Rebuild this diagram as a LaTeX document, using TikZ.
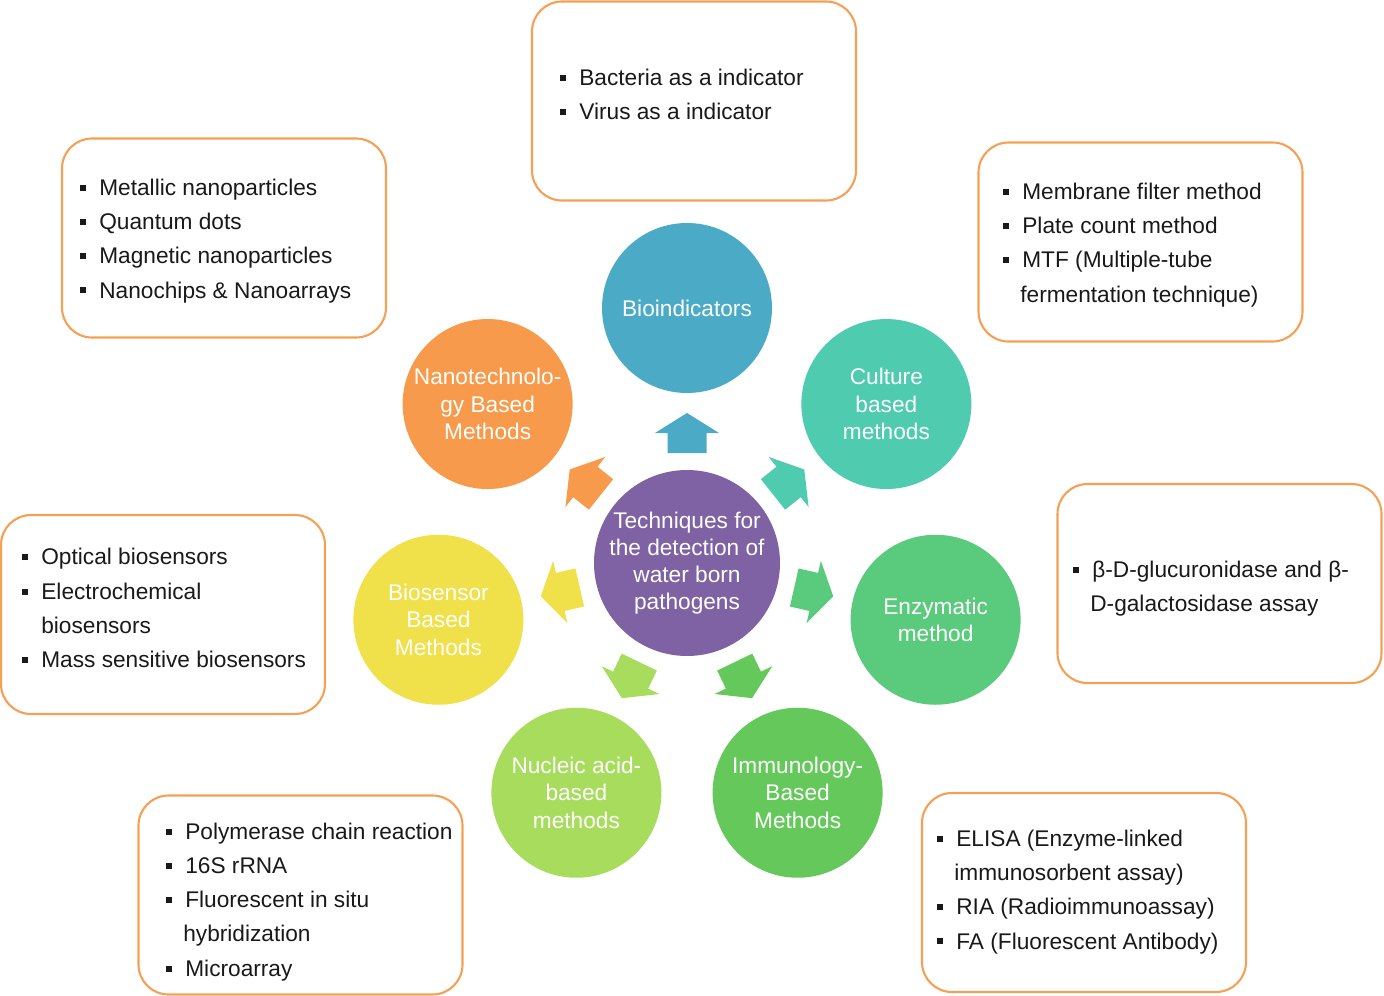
\documentclass[tikz,border=0pt]{standalone}
\usepackage{fontspec}
\setmainfont{Liberation Sans}
\usepackage{xcolor}
\usetikzlibrary{positioning, calc}

\definecolor{hubpurple}{HTML}{7F62A3}
\definecolor{bioblue}{HTML}{4BAAC6}
\definecolor{culturegreen}{HTML}{4FCBB0}
\definecolor{enzymegreen}{HTML}{5ACA7D}
\definecolor{immunogreen}{HTML}{64C95A}
\definecolor{nucleiclime}{HTML}{A7DC5D}
\definecolor{sensoryellow}{HTML}{F0E04A}
\definecolor{nanoorange}{HTML}{F79A4B}
\definecolor{boxorange}{HTML}{F5A054}

\newcommand{\bulitem}[1]{\makebox[0.38cm][l]{\raisebox{0.2em}{\rule{0.12cm}{0.12cm}}}#1}
\newcommand{\contline}[1]{\hspace*{0.34cm}#1}

\begin{document}
\begin{tikzpicture}[
    hubcircle/.style={circle, minimum size=3.72cm, inner sep=0pt, text=white, align=center,
        font=\fontsize{12.9pt}{15.5pt}\selectfont},
    satcircle/.style={circle, minimum size=3.4cm, inner sep=0pt, text=white, align=center,
        font=\fontsize{12.9pt}{15.5pt}\selectfont},
    listbox/.style={draw=boxorange, line width=1.2pt, rounded corners=0.6cm,
        minimum width=6.48cm, minimum height=3.98cm},
    listtext/.style={anchor=west, inner sep=0pt, align=left, text=black!90,
        font=\fontsize{12.9pt}{19.4pt}\selectfont},
    blockarrow/.pic={\path[pic actions] (-0.4,-0.39) -- (0,-0.39) -- (0,-0.64) -- (0.4,0)
        -- (0,0.64) -- (0,0.39) -- (-0.4,0.39) -- cycle;}
]
    \useasboundingbox (0,0) rectangle (27.68,-19.92);

    % Centre circle
    \node[hubcircle, fill=hubpurple] (hub) at (13.74,-11.26)
        {Techniques for\\the detection of\\water born\\pathogens};

    % --- SATELLITE CIRCLES (heptagon, radius 5.1) ---
    \node[satcircle, fill=bioblue] (bio) at ($(hub)+(90:5.1)$) {Bioindicators};
    \node[satcircle, fill=culturegreen] (culture) at ($(hub)+(38.57:5.1)$) {Culture\\based\\methods};
    \node[satcircle, fill=enzymegreen] (enzyme) at ($(hub)+(-12.86:5.1)$) {Enzymatic\\method};
    \node[satcircle, fill=immunogreen] (immuno) at ($(hub)+(-64.29:5.1)$) {Immunology-\\Based\\Methods};
    \node[satcircle, fill=nucleiclime] (nucleic) at ($(hub)+(-115.71:5.1)$) {Nucleic acid-\\based\\methods};
    \node[satcircle, fill=sensoryellow] (sensor) at ($(hub)+(-167.14:5.1)$) {Biosensor\\Based\\Methods};
    \node[satcircle, fill=nanoorange] (nano) at ($(hub)+(141.43:5.1)$) {Nanotechnolo-\\gy Based\\Methods};

    % --- BLOCK ARROWS out of the centre ---
    \pic[fill=bioblue, rotate=90] at ($(hub)+(90:2.6)$) {blockarrow};
    \pic[fill=culturegreen, rotate=38.57] at ($(hub)+(38.57:2.6)$) {blockarrow};
    \pic[fill=enzymegreen, rotate=-12.86] at ($(hub)+(-12.86:2.6)$) {blockarrow};
    \pic[fill=immunogreen, rotate=-64.29] at ($(hub)+(-64.29:2.6)$) {blockarrow};
    \pic[fill=nucleiclime, rotate=-115.71] at ($(hub)+(-115.71:2.6)$) {blockarrow};
    \pic[fill=sensoryellow, rotate=-167.14] at ($(hub)+(-167.14:2.6)$) {blockarrow};
    \pic[fill=nanoorange, rotate=141.43] at ($(hub)+(141.43:2.6)$) {blockarrow};

    % --- LIST BOXES ---
    \node[listbox] (biobox) at (13.88,-2.02) {};
    \node[listtext] (biolist) at (11.2,-1.88)
        {\bulitem{Bacteria as a indicator}\\\bulitem{Virus as a indicator}};

    \node[listbox] (nanobox) at (4.48,-4.76) {};
    \node[listtext] (nanolist) at (1.6,-4.82)
        {\bulitem{Metallic nanoparticles}\\\bulitem{Quantum dots}\\
         \bulitem{Magnetic nanoparticles}\\\bulitem{Nanochips \& Nanoarrays}};

    \node[listbox] (culturebox) at (22.81,-4.84) {};
    \node[listtext] (culturelist) at (20.06,-4.9)
        {\bulitem{Membrane filter method}\\\bulitem{Plate count method}\\
         \bulitem{MTF (Multiple-tube}\\\contline{fermentation technique)}};

    \node[listbox] (sensorbox) at (3.26,-12.29) {};
    \node[listtext] (sensorlist) at (0.44,-12.16)
        {\bulitem{Optical biosensors}\\\bulitem{Electrochemical}\\
         \contline{\hspace{0.04cm}biosensors}\\\bulitem{Mass sensitive biosensors}};

    \node[listbox] (enzymebox) at (24.39,-11.67) {};
    \node[listtext] (enzymelist) at (21.46,-11.78)
        {\bulitem{β-D-glucuronidase and β-}\\\contline{D-galactosidase assay}};

    \node[listbox] (nucleicbox) at (6.01,-17.9) {};
    \node[listtext] (nucleiclist) at (3.32,-18.04)
        {\bulitem{Polymerase chain reaction}\\\bulitem{16S rRNA}\\
         \bulitem{Fluorescent in situ}\\\contline{hybridization}\\\bulitem{Microarray}};

    \node[listbox] (immunobox) at (21.68,-17.85) {};
    \node[listtext] (immunolist) at (18.74,-17.84)
        {\bulitem{ELISA (Enzyme-linked}\\\contline{immunosorbent assay)}\\
         \bulitem{RIA (Radioimmunoassay)}\\\bulitem{FA (Fluorescent Antibody)}};

\end{tikzpicture}
\end{document}
